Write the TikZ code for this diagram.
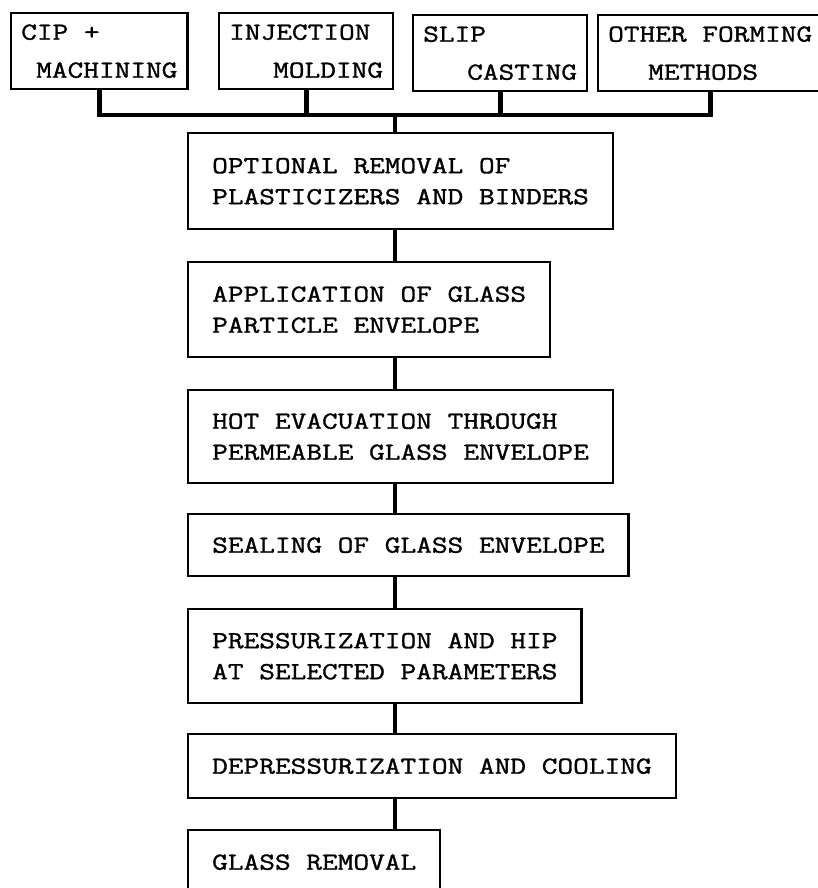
\documentclass[tikz,border=0pt]{standalone}
\usepackage{fontspec}
\newfontfamily\typerfont{Latin Modern Mono}[FakeStretch=1.244, FakeBold=1.3]
\begin{document}
\begin{tikzpicture}[x=1pt, y=-1pt,
        stage/.style={draw, line width=2.4pt, anchor=north west, align=left, inner xsep=24pt, inner ysep=0pt, font=\typerfont\fontsize{24.5}{31}\selectfont},
        method/.style={stage, inner xsep=10pt, minimum height=76pt, font=\typerfont\fontsize{24.5}{38}\selectfont},
        link/.style={line width=4.8pt}
    ]
        \useasboundingbox (0,0) rectangle (817,888);

        % Forming methods
        \node[method] (cip) at (10,12) {CIP +\\\hspace*{15pt}MACHINING};
        \node[method] (inj) at (218,12) {INJECTION\\\hspace*{44pt}MOLDING};
        \node[method] (slip) at (412,14) {SLIP\\\hspace*{44pt}CASTING};
        \node[method] (oth) at (597,14) {OTHER FORMING\\\hspace*{40pt}METHODS};

        % Process steps
        \node[stage, minimum height=96pt] (opt) at (187,132) {OPTIONAL REMOVAL OF\\PLASTICIZERS AND BINDERS};
        \node[stage, minimum height=95pt] (app) at (187,261) {APPLICATION OF GLASS\\PARTICLE ENVELOPE};
        \node[stage, minimum height=93pt] (hot) at (187,389) {HOT EVACUATION THROUGH\\PERMEABLE GLASS ENVELOPE};
        \node[stage, minimum height=62pt] (seal) at (187,513) {SEALING OF GLASS ENVELOPE};
        \node[stage, minimum height=94pt] (hip) at (187,608) {PRESSURIZATION AND HIP\\AT SELECTED PARAMETERS};
        \node[stage, minimum height=64pt] (cool) at (187,733) {DEPRESSURIZATION AND COOLING};
        \node[stage, minimum height=64pt] (rem) at (187,829) {GLASS REMOVAL};

        % Collecting bar
        \coordinate (bar) at (395,115);
        \draw[link] (cip.south) |- (bar);
        \draw[link] (inj.south) |- (bar);
        \draw[link] (slip.south) |- (bar);
        \draw[link] (oth.south) |- (bar);
        \draw[link] (bar) -- (bar |- opt.north);

        % Main sequence
        \draw[link] (opt.south -| bar) -- (app.north -| bar);
        \draw[link] (app.south -| bar) -- (hot.north -| bar);
        \draw[link] (hot.south -| bar) -- (seal.north -| bar);
        \draw[link] (seal.south -| bar) -- (hip.north -| bar);
        \draw[link] (hip.south -| bar) -- (cool.north -| bar);
        \draw[link] (cool.south -| bar) -- (rem.north -| bar);
    \end{tikzpicture}
\end{document}
